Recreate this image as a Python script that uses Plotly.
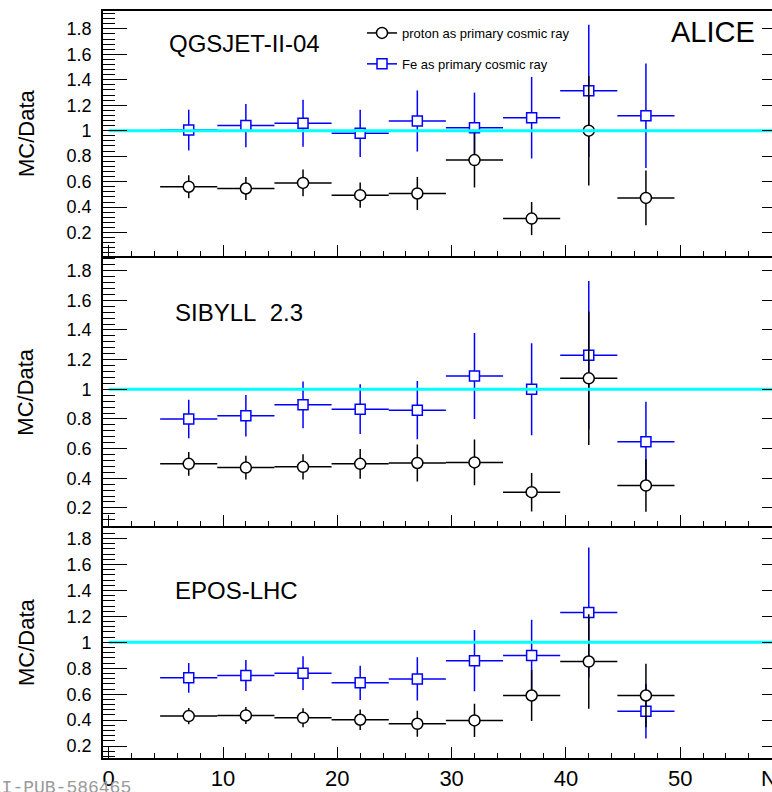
import plotly.graph_objects as go

# Muon-multiplicity bins (bin centres, half width 2.5)
n_mu = [7, 12, 17, 22, 27, 32, 37, 42, 47]
half_bin = [2.5] * len(n_mu)

# QGSJET-II-04
qgs_p = [0.56, 0.546, 0.59, 0.494, 0.507, 0.769, 0.31, 1.0, 0.472]
qgs_p_err = [0.09, 0.09, 0.105, 0.10, 0.13, 0.215, 0.13, 0.43, 0.215]
qgs_fe = [1.005, 1.04, 1.058, 0.979, 1.076, 1.024, 1.102, 1.313, 1.118]
qgs_fe_err = [0.16, 0.17, 0.185, 0.185, 0.24, 0.275, 0.32, 0.52, 0.41]

# SIBYLL 2.3
sib_p = [0.497, 0.472, 0.477, 0.497, 0.503, 0.507, 0.306, 1.074, 0.351]
sib_p_err = [0.08, 0.08, 0.085, 0.10, 0.125, 0.155, 0.13, 0.45, 0.177]
sib_fe = [0.799, 0.821, 0.895, 0.866, 0.859, 1.089, 1.0, 1.23, 0.646]
sib_fe_err = [0.13, 0.14, 0.157, 0.168, 0.196, 0.29, 0.31, 0.5, 0.27]

# EPOS-LHC
epos_p = [0.431, 0.436, 0.418, 0.403, 0.372, 0.398, 0.59, 0.852, 0.59]
epos_p_err = [0.062, 0.065, 0.073, 0.08, 0.1, 0.128, 0.196, 0.365, 0.245]
epos_fe = [0.726, 0.744, 0.762, 0.688, 0.718, 0.859, 0.898, 1.231, 0.469]
epos_fe_err = [0.115, 0.12, 0.13, 0.132, 0.167, 0.237, 0.277, 0.5, 0.21]

models = ["QGSJET-II-04", "SIBYLL\u00a0\u00a02.3", "EPOS-LHC"]
proton_vals = [qgs_p, sib_p, epos_p]
proton_errs = [qgs_p_err, sib_p_err, epos_p_err]
fe_vals = [qgs_fe, sib_fe, epos_fe]
fe_errs = [qgs_fe_err, sib_fe_err, epos_fe_err]

ref_x = [0, 60]
ref_y = [1, 1]

W, H = 772, 792
LEFT = 103
LW = 1.6
FONT = "Liberation Sans, Arial, Helvetica, sans-serif"
BLACK = "#000000"
BLUE = "#0000ff"
CYAN = "#00ffff"

x_range = [-0.5, 58.03]
y_ranges = [[0.016, 1.94], [0.078, 1.888], [0.108, 1.885]]
# pad edges in pixels from the top of the page: (top, bottom);
# lower pads start one line width down so shared borders coincide
pad_px = [(11, 256), (256 + LW, 526), (526 + LW, 758)]


def py(p):
    return 1 - p / H


def px(p):
    return (p - LEFT) / (W - LEFT)


fig = go.Figure()

for i in range(3):
    xa = "x" if i == 0 else f"x{i + 1}"
    ya = "y" if i == 0 else f"y{i + 1}"
    fig.add_trace(go.Scatter(
        x=n_mu, y=fe_vals[i], xaxis=xa, yaxis=ya, mode="markers",
        marker=dict(symbol="square", size=10, color="white",
                    line=dict(color=BLUE, width=1.5)),
        error_x=dict(type="data", array=half_bin, color=BLUE, thickness=1.5, width=0),
        error_y=dict(type="data", array=fe_errs[i], color=BLUE, thickness=1.5, width=0),
        showlegend=False, hoverinfo="skip"))
    fig.add_trace(go.Scatter(
        x=n_mu, y=proton_vals[i], xaxis=xa, yaxis=ya, mode="markers",
        marker=dict(symbol="circle", size=11, color="white",
                    line=dict(color=BLACK, width=1.5)),
        error_x=dict(type="data", array=half_bin, color=BLACK, thickness=1.5, width=0),
        error_y=dict(type="data", array=proton_errs[i], color=BLACK, thickness=1.5, width=0),
        showlegend=False, hoverinfo="skip"))
    fig.add_trace(go.Scatter(
        x=ref_x, y=ref_y, xaxis=xa, yaxis=ya, mode="lines",
        line=dict(color=CYAN, width=3), showlegend=False, hoverinfo="skip"))
    # right-hand tick marks
    fig.add_trace(go.Scatter(
        x=[None], y=[None], xaxis=xa, yaxis=f"y{i + 4}", mode="markers",
        showlegend=False, hoverinfo="skip"))

# legend entries
fig.add_trace(go.Scatter(
    x=[None], y=[None], mode="lines+markers", name="proton as primary cosmic ray",
    legendgroup="p",
    marker=dict(symbol="circle", size=11, color="white", line=dict(color=BLACK, width=1.5)),
    line=dict(color=BLACK, width=1.5)))
fig.add_trace(go.Scatter(
    x=[None], y=[None], mode="lines+markers", name="Fe as primary cosmic ray",
    legendgroup="fe",
    marker=dict(symbol="square", size=10, color="white", line=dict(color=BLUE, width=1.5)),
    line=dict(color=BLUE, width=1.5)))

layout = dict(
    width=W, height=H,
    margin=dict(l=LEFT, r=0, t=0, b=0, pad=0),
    paper_bgcolor="white", plot_bgcolor="white",
    font=dict(family=FONT, color=BLACK),
    legend=dict(x=px(362), y=py(18), xanchor="left", yanchor="top",
                font=dict(size=13, family=FONT), bgcolor="rgba(0,0,0,0)",
                tracegroupgap=11, itemwidth=30),
)

for i in range(3):
    top, bot = pad_px[i]
    sfx = "" if i == 0 else str(i + 1)
    ya_name = "y" if i == 0 else f"y{i + 1}"
    layout[f"xaxis{sfx}"] = dict(
        domain=[0, 1], range=x_range, anchor=ya_name,
        matches=None if i == 0 else "x",
        showline=True, linecolor=BLACK, linewidth=LW, mirror=True,
        ticks="inside", ticklen=11, tickwidth=1.3, tickcolor=BLACK,
        tick0=0, dtick=10,
        minor=dict(ticks="inside", ticklen=5, dtick=2, tickwidth=1.3, tickcolor=BLACK),
        showgrid=False, zeroline=False,
        showticklabels=(i == 2),
        tickfont=dict(size=22, family=FONT),
        ticklabelstandoff=0,
        automargin=False,
    )
    layout[f"yaxis{sfx}"] = dict(
        domain=[py(bot), py(top)], range=y_ranges[i], anchor="x" if i == 0 else f"x{i + 1}",
        showline=True, linecolor=BLACK, linewidth=LW, mirror=False,
        ticks="inside", ticklen=24, tickwidth=1.3, tickcolor=BLACK,
        tick0=0, dtick=0.2,
        minor=dict(ticks="inside", ticklen=12, dtick=0.04, tickwidth=1.3, tickcolor=BLACK),
        showgrid=False, zeroline=False,
        tickfont=dict(size=18, family=FONT),
        ticklabelstandoff=6,
        automargin=False,
    )
    layout[f"yaxis{i + 4}"] = dict(
        overlaying=ya_name, side="right", anchor="free", position=1,
        range=y_ranges[i], showline=False, showgrid=False, zeroline=False,
        ticks="inside", ticklen=10, tickwidth=1.3, tickcolor=BLACK,
        tick0=0, dtick=0.2, showticklabels=False,
    )

fig.update_layout(**layout)

ann = []
# model names
label_pos = [(166.7, 43.8), (172.7, 312.5), (172.7, 590.8)]
for name, (lx, ly) in zip(models, label_pos):
    ann.append(dict(text=name, x=px(lx), y=py(ly), xref="paper", yref="paper",
                    xanchor="left", yanchor="middle", showarrow=False,
                    font=dict(size=24, family=FONT, color=BLACK)))
# y titles
for cy in [133, 391.7, 642]:
    ann.append(dict(text="MC/Data", x=px(26), y=py(cy), xref="paper", yref="paper",
                    xanchor="center", yanchor="middle", textangle=-90, showarrow=False,
                    font=dict(size=22, family=FONT, color=BLACK)))
ann.append(dict(text="ALICE", x=px(669), y=py(31.5), xref="paper", yref="paper",
                xanchor="left", yanchor="middle", showarrow=False,
                font=dict(size=29, family=FONT, color=BLACK)))
ann.append(dict(text="N<sub>μ</sub>", x=px(759), y=py(779.5), xref="paper", yref="paper",
                xanchor="left", yanchor="middle", showarrow=False,
                font=dict(size=22, family=FONT, color=BLACK)))
ann.append(dict(text="ALI-PUB-586465", x=px(133), y=py(776), xref="paper", yref="paper",
                xanchor="right", yanchor="top", showarrow=False,
                font=dict(size=18, family="Liberation Mono, Courier New, monospace",
                          color="#9a9a9a")))
fig.update_layout(annotations=ann)

fig.write_html("out.html")
